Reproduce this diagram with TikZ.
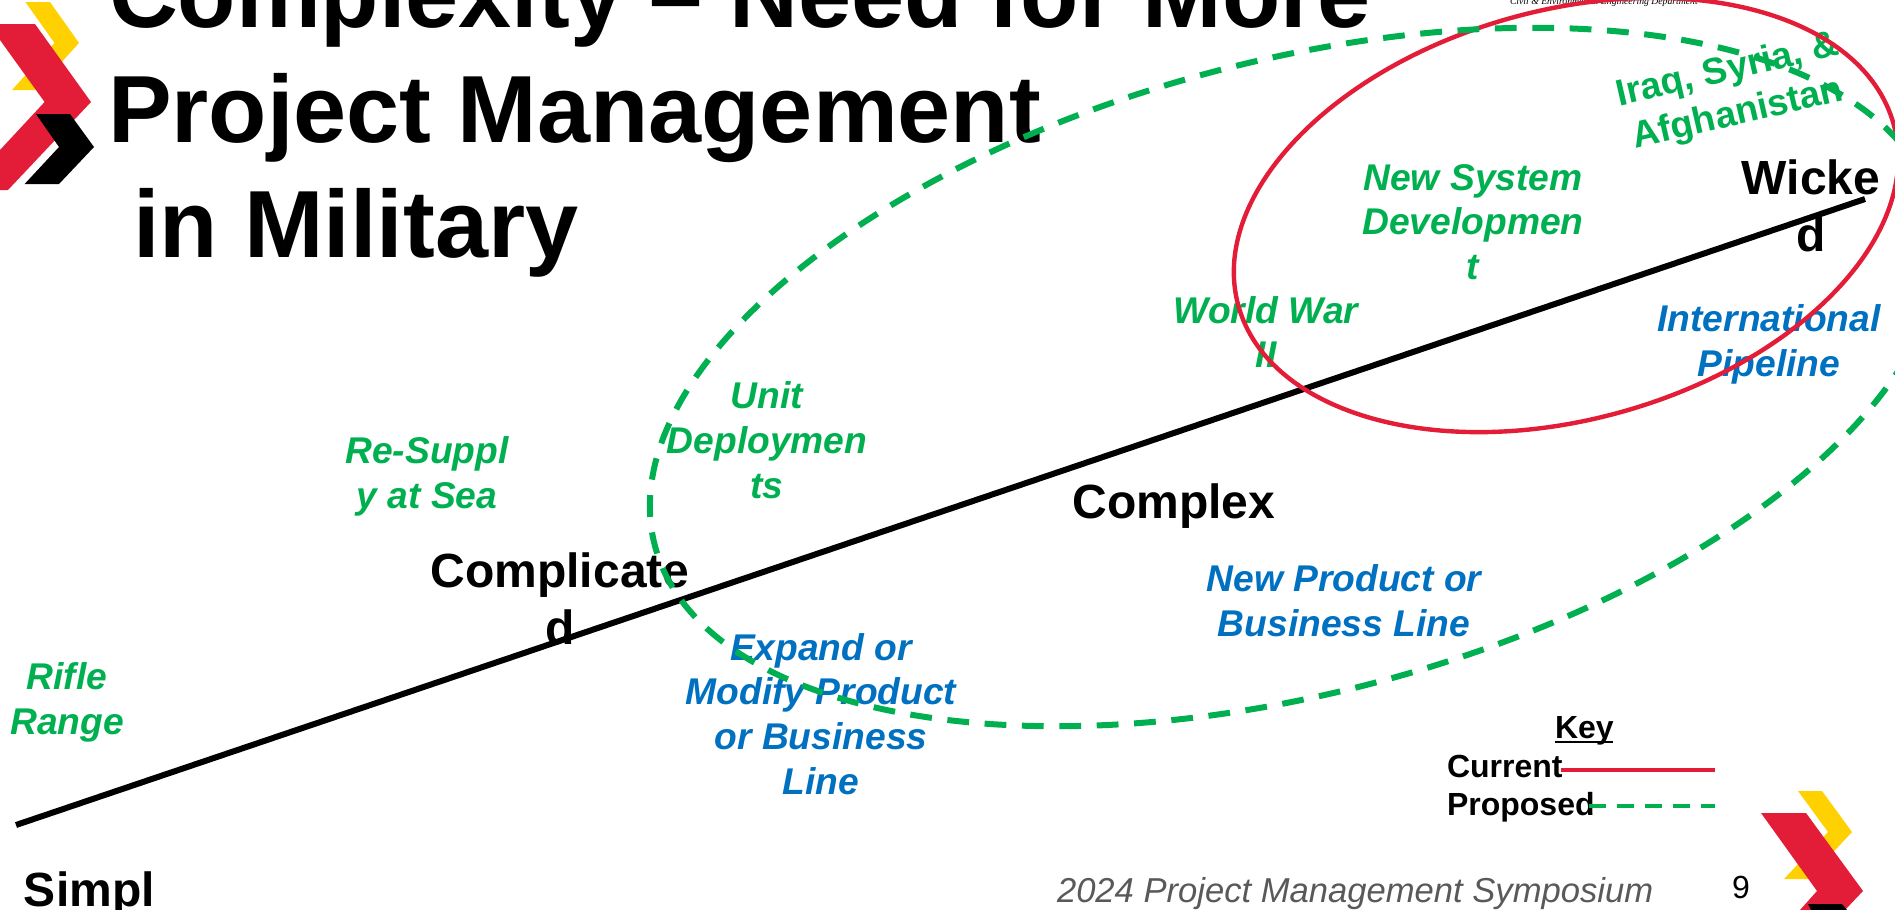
\documentclass[tikz,border=0pt]{standalone}
\usepackage{fontspec}
\setmainfont{Liberation Sans}
\newfontfamily\footserif{Liberation Serif}
\definecolor{mgreen}{HTML}{00B050}
\definecolor{mblue}{HTML}{0070C0}
\definecolor{mred}{HTML}{E31C37}
\definecolor{myellow}{HTML}{FFD100}
\definecolor{mgrey}{HTML}{595959}
\newcommand{\fsz}[2]{\fontsize{#1}{#2}\selectfont}
\tikzset{
  every node/.style={inner sep=0pt,outer sep=0pt},
  titletext/.style={anchor=base west,font=\fsz{47.7}{57}\bfseries},
  levellabel/.style={align=center,font=\fsz{24}{28.5}\bfseries},
  casegreen/.style={align=center,text=mgreen,font=\fsz{18.6}{22.4}\bfseries\itshape},
  caseblue/.style={align=center,text=mblue,font=\fsz{18.6}{22.4}\bfseries\itshape},
  keytext/.style={anchor=base west,font=\fsz{16}{19}\bfseries},
  currentline/.style={draw=mred,line width=2.2pt},
  proposedline/.style={draw=mgreen,line width=3pt,dash pattern=on 10.9pt off 7.8pt},
}
\begin{document}
\begin{tikzpicture}[x=0.5pt,y=-0.5pt]
\useasboundingbox (0,0) rectangle (1895,910);
\clip (0,0) rectangle (1895,910);
% logos
\fill[myellow] (25.4,2)--(50,2)--(79,43)--(36,90)--(12,90)--(54.5,43)--cycle;
\fill[mred] (0,24)--(35,24)--(91,102)--(8,190)--(0,190)--(0,150)--(44.6,102)--(0,40)--cycle;
\fill[black] (36,114)--(70,114)--(94,147)--(59,184)--(24.6,184)--(59,147)--cycle;
\fill[myellow] (1798,791)--(1822,791)--(1852,832)--(1808,879)--(1784,879)--(1828,832)--cycle;
\fill[mred] (1761,813)--(1806,813)--(1863,891)--(1845,910)--(1800,910)--(1817,891)--cycle;
\fill[black] (1808,904)--(1842,904)--(1847,910)--(1811,910)--cycle;
% small header
\node[anchor=base west,text=black,font=\footserif\fsz{4.85}{6}\itshape] (dept) at (1510,4) {Civil \& Environmental Engineering Department};
% title
\node[titletext] (t1) at (109,27) {Complexity – Need for More};
\node[titletext] (t2) at (108,142) {Project Management};
\node[titletext] (t3) at (133,257) {in Military};
% levels
\node[levellabel,anchor=base west] (simple) at (24,906) {Simpl};
\node[levellabel] (complicated) at (560,599) {Complicate\\d};
\node[levellabel] (complex) at (1174,506) {Complex};
\node[levellabel] (wicked) at (1811,206) {Wicke\\d};
% cases
\node[casegreen] (rifle) at (67,702) {Rifle\\Range};
\node[casegreen] (resupply) at (427,476) {Re-Suppl\\y at Sea};
\node[casegreen] (unit) at (767,440) {Unit\\Deploymen\\ts};
\node[casegreen] (ww2) at (1266,332) {World War\\II};
\node[casegreen] (newsys) at (1473,222) {New System\\Developmen\\t};
\node[casegreen,rotate=13,font=\fsz{18.6}{22.4}\bfseries] (iraq) at (1733,93) {Iraq, Syria, \&\\Afghanistan};
\node[caseblue] (intl) at (1769,344) {International\\Pipeline};
\node[caseblue] (newprod) at (1344,601) {New Product or\\Business Line};
\node[caseblue] (expand) at (821,714) {Expand or\\Modify Product\\or Business\\Line};
% axis
\coordinate (axisStart) at (16,825);
\coordinate (axisEnd) at (1865,199);
\draw[line width=3pt,black] (axisStart) -- (axisEnd);
% ellipses
\draw[currentline,rotate around={15.5:(1566,215)}] (1566,215) ellipse [x radius=170pt,y radius=102.3pt];
\draw[proposedline,rotate around={14.8:(1295,377)}] (1295,377) ellipse [x radius=331pt,y radius=158pt];
% key
\node[anchor=base west,font=\fsz{16}{19}\bfseries] (key) at (1555,738) {Key};
\coordinate (ulA) at (1555,742);
\coordinate (ulB) at (1613,742);
\draw[line width=1.1pt] (ulA) -- (ulB);
\node[keytext] (cur) at (1447,777) {Current};
\node[keytext] (prop) at (1447,815) {Proposed};
\coordinate (curStart) at (1561,770);
\coordinate (curEnd) at (1715,770);
\coordinate (propStart) at (1589,806);
\coordinate (propEnd) at (1715,806);
\draw[draw=mred,line width=2pt] (curStart) -- (curEnd);
\draw[draw=mgreen,line width=2pt,dash pattern=on 8.4pt off 5.6pt] (propStart) -- (propEnd);
% footer
\node[anchor=base west,text=mgrey,font=\fsz{17.3}{20}\itshape] (foot) at (1057,902) {2024 Project Management Symposium};
\node[anchor=base,font=\fsz{16}{19}] (pagenum) at (1741,898) {9};
\end{tikzpicture}
\end{document}
